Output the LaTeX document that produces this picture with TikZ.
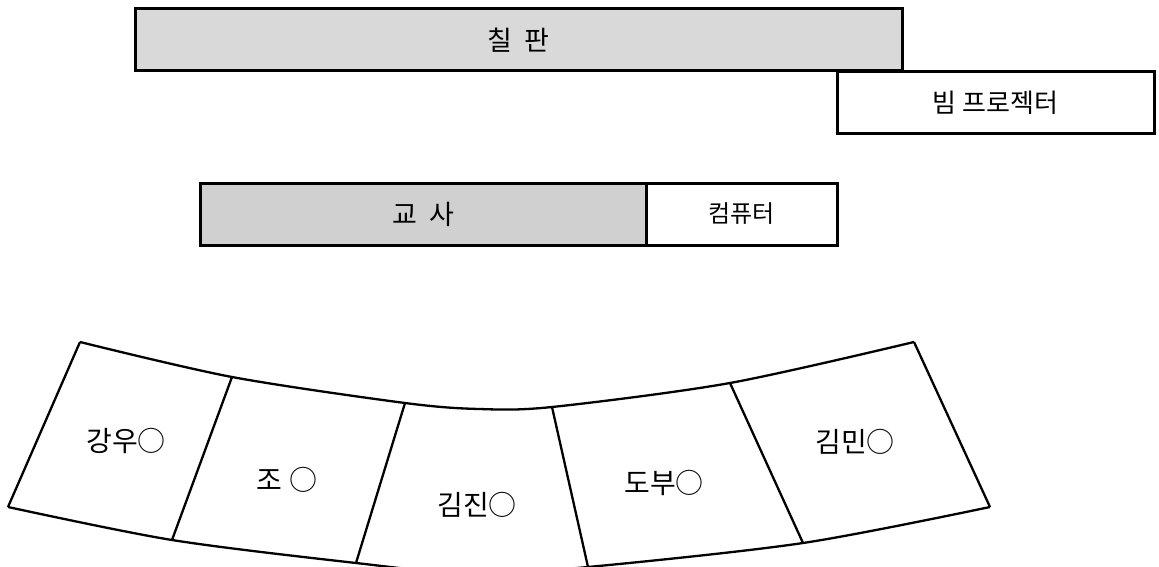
\documentclass[tikz,border=0pt]{standalone}
\usepackage{fontspec}
\setmainfont{Noto Sans CJK KR}
\usetikzlibrary{calc}
\definecolor{boardgray}{RGB}{217,217,217}
\definecolor{deskgray}{RGB}{208,208,208}

\begin{document}
\begin{tikzpicture}[x=1pt, y=-1pt,
		box/.style={draw=black, line width=3pt, minimum height=62pt, inner sep=0pt, font=\fontsize{24}{28}\selectfont},
		bigbox/.style={box, font=\fontsize{27}{32}\selectfont},
		seatline/.style={line width=2.3pt, line join=round},
		seat/.style={font=\fontsize{28}{32}\selectfont}]
		%%%%% START %%%%%
		
		\useasboundingbox (0, 0) rectangle (1159, 567);
		
		\node[bigbox, fill=boardgray, minimum width=767pt] (board) at (518.5, 40) {칠\ \ 판};
		\node[box, fill=white, minimum width=317pt, font=\fontsize{26}{30}\selectfont] (beam) at (995.5, 103) {빔 프로젝터};
		
		\node[bigbox, fill=deskgray, minimum width=446pt] (teacher) at (423, 214) {교\ \ 사};
		\node[box, fill=white, minimum width=191pt] (computer) at (741.5, 214) {컴퓨터};
		
		\coordinate (t0) at (80, 342);
		\coordinate (t1) at (232, 377);
		\coordinate (t2) at (405, 403);
		\coordinate (t3) at (552, 407);
		\coordinate (t4) at (730, 383);
		\coordinate (t5) at (914, 342);
		
		\coordinate (b0) at (8, 507);
		\coordinate (b1) at (172, 540);
		\coordinate (b2) at (356, 563);
		\coordinate (b3) at (588, 567);
		\coordinate (b4) at (803, 543);
		\coordinate (b5) at (990, 507);
		
		\begin{scope}
			\clip (0, 0) rectangle (1159, 567);
			\draw[seatline] plot[smooth] coordinates {(t0) (t1) (t2) (479, 409) (t3) (t4) (t5)};
			\draw[seatline] plot[smooth] coordinates {(b0) (b1) (b2) (472, 574) (b3) (b4) (b5)};
			\foreach \i in {0,...,5}
				\draw[seatline] (t\i) -- (b\i);
		\end{scope}
		
		\node[seat] (kangwoo) at (126, 441) {강우○};
		\node[seat] (jo) at (287, 480) {조 ○};
		\node[seat] (kimjin) at (477, 505) {김진○};
		\node[seat] (dobu) at (664, 483) {도부○};
		\node[seat] (kimmin) at (855, 442) {김민○};
		
		%%%%% END %%%%%
	\end{tikzpicture}
\end{document}
